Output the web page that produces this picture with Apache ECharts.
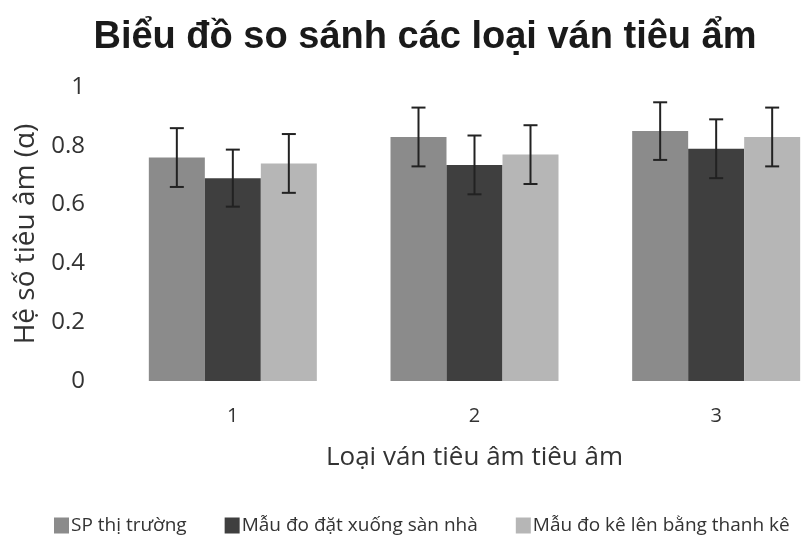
<!DOCTYPE html>
<html>
<head>
<meta charset="utf-8">
<script src="https://cdn.jsdelivr.net/npm/echarts@6/dist/echarts.min.js"></script>
<style>
  html, body { margin: 0; padding: 0; background: #fff; }
  #chart { width: 803px; height: 536px; }
</style>
</head>
<body>
<div id="chart"></div>
<script>
// Values
const categories = ['1', '2', '3'];
const seriesNames = ['SP thị trường', 'Mẫu đo đặt xuống sàn nhà', 'Mẫu đo kê lên bằng thanh kê'];
const means = [
    [0.76, 0.83, 0.85],
    [0.69, 0.735, 0.79],
    [0.74, 0.77, 0.83]
];
const errors = [
    [0.10, 0.10, 0.098],
    [0.097, 0.10, 0.10],
    [0.10, 0.10, 0.10]
];
const colors = ['#8b8b8b', '#3f3f3f', '#b6b6b6'];

const BAR_W = 56;
const font = 'Open Sans, Noto Sans, sans-serif';

const chart = echarts.init(document.getElementById('chart'));

const barSeries = seriesNames.map((name, i) => ({
    name: name,
    type: 'bar',
    barWidth: BAR_W,
    barGap: '0%',
    data: means[i],
    itemStyle: { color: colors[i] },
    z: 2
}));

const errSeries = seriesNames.map((name, i) => ({
    type: 'custom',
    name: name,
    z: 5,
    silent: true,
    data: means[i].map((m, j) => [j, m - errors[i][j], m + errors[i][j]]),
    renderItem: (params, api) => {
        const c = api.value(0);
        const lo = api.coord([c, api.value(1)]);
        const hi = api.coord([c, api.value(2)]);
        const x = lo[0] + (i - 1) * BAR_W;
        const cap = 7;
        const st = { stroke: '#222', lineWidth: 2 };
        return {
            type: 'group',
            children: [
                { type: 'line', shape: { x1: x, y1: hi[1], x2: x, y2: lo[1] }, style: st },
                { type: 'line', shape: { x1: x - cap, y1: hi[1], x2: x + cap, y2: hi[1] }, style: st },
                { type: 'line', shape: { x1: x - cap, y1: lo[1], x2: x + cap, y2: lo[1] }, style: st }
            ]
        };
    }
}));

chart.setOption({
    animation: false,
    title: {
        text: 'Biểu đồ so sánh các loại ván tiêu ẩm',
        left: 420,
        textAlign: 'center',
        top: 14,
        textStyle: { fontFamily: 'Liberation Sans, Arial, sans-serif', fontWeight: 'bold', fontSize: 38, color: '#1a1a1a' }
    },
    legend: {
        data: seriesNames,
        left: 49,
        top: 511,
        width: 1000,
        icon: 'rect',
        itemWidth: 15,
        itemHeight: 16,
        itemGap: 38,
        textStyle: { fontFamily: font, fontSize: 19, color: '#333', padding: [0, 0, 0, -3] }
    },
    grid: { left: 112, width: 725, top: 87, height: 294, outerBoundsMode: 'none', containLabel: false },
    xAxis: {
        type: 'category',
        data: categories,
        axisLine: { show: false },
        axisTick: { show: false },
        axisLabel: { fontFamily: font, fontSize: 20, color: '#333', margin: 25 },
        name: 'Loại ván tiêu âm tiêu âm',
        nameLocation: 'middle',
        nameGap: 64,
        nameTextStyle: { fontFamily: font, fontSize: 26, color: '#333' }
    },
    yAxis: {
        type: 'value',
        min: 0,
        max: 1,
        interval: 0.2,
        splitLine: { show: false },
        axisLine: { show: false },
        axisTick: { show: false },
        axisLabel: { fontFamily: font, fontSize: 24, color: '#333', margin: 27 },
        name: 'Hệ số tiêu âm (α)',
        nameLocation: 'middle',
        nameGap: 72,
        nameTextStyle: { fontFamily: font, fontSize: 28, color: '#333' }
    },
    series: barSeries.concat(errSeries)
});
</script>
</body>
</html>
